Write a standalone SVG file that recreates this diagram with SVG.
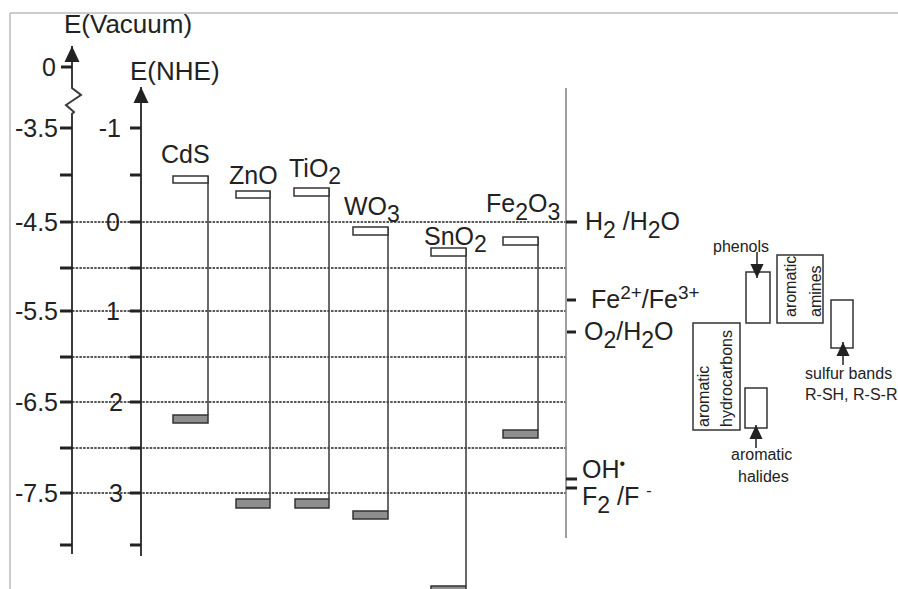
<svg xmlns="http://www.w3.org/2000/svg" width="898" height="589" viewBox="0 0 898 589">
<style>
text{font-family:"Liberation Sans",Arial,sans-serif;fill:#222}
.big{font-size:25px}
.ttl{font-size:26px}
.sm{font-size:16px}
.ax{stroke:#3a3a3a;stroke-width:2;fill:none}
.tk{stroke:#222;stroke-width:3}
.dot{stroke:#222;stroke-width:1.6;stroke-dasharray:2.5 1.2}
.cb{fill:#fff;stroke:#333;stroke-width:1.5}
.vb{fill:#8e8e8e;stroke:#333;stroke-width:1.5}
.vl{stroke:#444;stroke-width:1.6}
.box{fill:#fff;stroke:#333;stroke-width:1.5}
.arr{stroke:#222;stroke-width:1.5}
</style>
<defs>
<marker id="ah" viewBox="0 0 16 16" markerWidth="16" markerHeight="16" markerUnits="userSpaceOnUse" refX="16" refY="8" orient="auto">
<path d="M0,0.5 L16,8 L0,15.5 z" fill="#222"/>
</marker>
<marker id="ahs" viewBox="0 0 16 16" markerWidth="15" markerHeight="14" markerUnits="userSpaceOnUse" refX="16" refY="8" orient="auto">
<path d="M0,0.5 L16,8 L0,15.5 z" fill="#222"/>
</marker>
</defs>
<g id="frame">
<line x1="10" y1="13" x2="898" y2="13" stroke="#bbb" stroke-width="1.5"/>
<line x1="10" y1="13" x2="10" y2="589" stroke="#bbb" stroke-width="1.5"/>
</g>
<g id="axis-vacuum">
<polyline class="ax" points="72,554 72,114 74,112 66,105 81,95 72,88 72,46" marker-end="url(#ah)"/>
<text class="ttl" x="64" y="33">E(Vacuum)</text>
<g class="tk">
<line x1="61" y1="67" x2="72" y2="67"/>
<line x1="60" y1="128" x2="72" y2="128"/>
<line x1="60" y1="175" x2="72" y2="175"/>
<line x1="60" y1="222" x2="72" y2="222"/>
<line x1="60" y1="268" x2="72" y2="268"/>
<line x1="60" y1="311" x2="72" y2="311"/>
<line x1="60" y1="357" x2="72" y2="357"/>
<line x1="60" y1="402" x2="72" y2="402"/>
<line x1="60" y1="448" x2="72" y2="448"/>
<line x1="60" y1="493" x2="72" y2="493"/>
<line x1="60" y1="545" x2="72" y2="545"/>
</g>
<g text-anchor="end" class="big">
<text x="56" y="76">0</text>
<text x="58" y="137">-3.5</text>
<text x="58" y="231">-4.5</text>
<text x="58" y="320">-5.5</text>
<text x="58" y="411">-6.5</text>
<text x="58" y="502">-7.5</text>
</g>
</g>
<g id="axis-nhe">
<line class="ax" x1="141" y1="556" x2="141" y2="87" marker-end="url(#ah)"/>
<text class="ttl" x="130" y="80">E(NHE)</text>
<g class="tk">
<line x1="130" y1="128" x2="141" y2="128"/>
<line x1="130" y1="175" x2="141" y2="175"/>
<line x1="130" y1="222" x2="141" y2="222"/>
<line x1="130" y1="268" x2="141" y2="268"/>
<line x1="130" y1="311" x2="141" y2="311"/>
<line x1="130" y1="357" x2="141" y2="357"/>
<line x1="130" y1="402" x2="141" y2="402"/>
<line x1="130" y1="448" x2="141" y2="448"/>
<line x1="130" y1="493" x2="141" y2="493"/>
<line x1="130" y1="545" x2="141" y2="545"/>
</g>
<g text-anchor="end" class="big">
<text x="121" y="137">-1</text>
<text x="120" y="231">0</text>
<text x="120" y="320">1</text>
<text x="123" y="411">2</text>
<text x="123" y="502">3</text>
</g>
</g>
<g id="gridlines">
<line class="dot" x1="72" y1="222" x2="566" y2="222"/>
<line class="dot" x1="72" y1="268" x2="566" y2="268"/>
<line class="dot" x1="72" y1="311" x2="566" y2="311"/>
<line class="dot" x1="72" y1="357" x2="566" y2="357"/>
<line class="dot" x1="72" y1="402" x2="566" y2="402"/>
<line class="dot" x1="72" y1="448" x2="566" y2="448"/>
<line class="dot" x1="72" y1="493" x2="566" y2="493"/>
</g>
<g id="CdS">
<line class="vl" x1="208" y1="176" x2="208" y2="415"/>
<rect class="cb" x="173" y="176" width="35" height="7"/>
<rect class="vb" x="173" y="415" width="35" height="8"/>
<text class="big" x="161" y="163">CdS</text>
</g>
<g id="ZnO">
<line class="vl" x1="270" y1="191" x2="270" y2="499"/>
<rect class="cb" x="236" y="191" width="34" height="7"/>
<rect class="vb" x="236" y="499" width="34" height="9"/>
<text class="big" x="229" y="184">ZnO</text>
</g>
<g id="TiO2">
<line class="vl" x1="329" y1="188" x2="329" y2="499"/>
<rect class="cb" x="294" y="188" width="35" height="8"/>
<rect class="vb" x="295" y="499" width="34" height="9"/>
<text class="big" x="289" y="177">TiO<tspan dy="7" font-size="23">2</tspan></text>
</g>
<g id="WO3">
<line class="vl" x1="388" y1="227" x2="388" y2="511" stroke="#666"/>
<rect class="cb" x="353" y="227" width="35" height="8"/>
<rect class="vb" x="353" y="511" width="35" height="8"/>
<text class="big" x="344" y="215">WO<tspan dy="7" font-size="23">3</tspan></text>
</g>
<g id="SnO2">
<line class="vl" x1="466" y1="248" x2="466" y2="586" stroke="#777"/>
<rect class="cb" x="431" y="248" width="35" height="8"/>
<rect class="vb" x="431" y="586" width="35" height="6"/>
<text class="big" x="424" y="245">SnO<tspan dy="7" font-size="23">2</tspan></text>
</g>
<g id="Fe2O3">
<line class="vl" x1="538" y1="237" x2="538" y2="430"/>
<rect class="cb" x="503" y="237" width="35" height="8"/>
<rect class="vb" x="503" y="430" width="35" height="8"/>
<text class="big" x="486" y="212">Fe<tspan dy="8" font-size="23">2</tspan><tspan dy="-8">O</tspan><tspan dy="8" font-size="23">3</tspan></text>
</g>
<g id="redox-scale">
<line x1="566" y1="88" x2="566" y2="538" stroke="#888" stroke-width="1.6"/>
<g class="tk">
<line x1="566" y1="222" x2="577" y2="222"/>
<line x1="567" y1="300" x2="576" y2="300"/>
<line x1="567" y1="332" x2="576" y2="332"/>
<line x1="566" y1="479" x2="577" y2="479"/>
<line x1="566" y1="488" x2="577" y2="488"/>
</g>
<text class="big" x="585" y="230">H<tspan dy="8" font-size="23">2</tspan><tspan dy="-8"> /H</tspan><tspan dy="8" font-size="23">2</tspan><tspan dy="-8">O</tspan></text>
<text class="big" x="591" y="308">Fe<tspan dy="-9" font-size="19">2+</tspan><tspan dy="9">/Fe</tspan><tspan dy="-9" font-size="19">3+</tspan></text>
<text class="big" x="584" y="340">O<tspan dy="8" font-size="23">2</tspan><tspan dy="-8">/H</tspan><tspan dy="8" font-size="23">2</tspan><tspan dy="-8">O</tspan></text>
<text class="big" x="582" y="478">OH<tspan dy="-9" font-size="16">•</tspan></text>
<text class="big" x="582" y="505">F<tspan dy="8" font-size="23">2</tspan><tspan dy="-8"> /F </tspan><tspan dy="-9" font-size="16">-</tspan></text>
</g>
<g id="phenols">
<rect class="box" x="746" y="272" width="24" height="51"/>
<text class="sm" x="713" y="252">phenols</text>
</g>
<g id="aromatic-amines">
<rect class="box" x="777" y="255" width="46" height="68"/>
<text class="sm" transform="translate(796,317) rotate(-90)">aromatic</text>
<text class="sm" transform="translate(821,317) rotate(-90)">amines</text>
</g>
<g id="sulfur-bands">
<rect class="box" x="831" y="300" width="22" height="48"/>
<text class="sm" x="805" y="379">sulfur bands</text>
<text class="sm" x="805" y="400">R-SH, R-S-R</text>
</g>
<g id="aromatic-hydrocarbons">
<rect class="box" x="693" y="323" width="47" height="107"/>
<text class="sm" transform="translate(709,427) rotate(-90)">aromatic</text>
<text class="sm" transform="translate(732,427) rotate(-90)">hydrocarbons</text>
</g>
<g id="aromatic-halides">
<rect class="box" x="745" y="388" width="22" height="40"/>
<text class="sm" x="731" y="460">aromatic</text>
<text class="sm" x="738" y="482">halides</text>
</g>
<g id="connectors">
<line class="arr" x1="757" y1="252" x2="757" y2="278" marker-end="url(#ahs)"/>
<line class="arr" x1="843" y1="365" x2="843" y2="342" marker-end="url(#ahs)"/>
<line class="arr" x1="756" y1="448" x2="756" y2="425" marker-end="url(#ahs)"/>
</g>
</svg>
